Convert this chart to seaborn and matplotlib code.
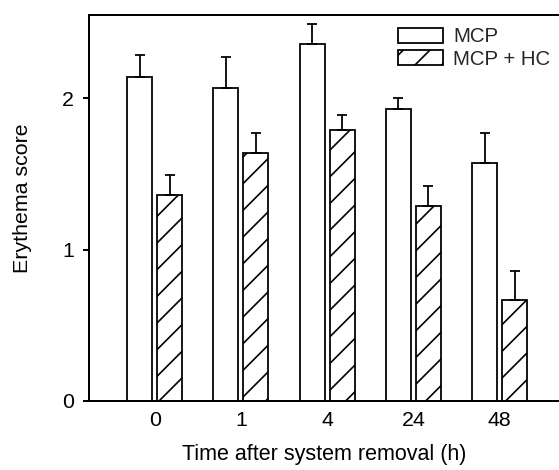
import matplotlib
matplotlib.use("Agg")
import numpy as np
import pandas as pd
import seaborn as sns
import matplotlib.pyplot as plt
from matplotlib.patches import Patch

# ---- data ----
times = ["0", "1", "4", "24", "48"]
groups = ["MCP", "MCP + HC"]
mcp = [2.14, 2.07, 2.36, 1.93, 1.57]
mcp_err = [0.145, 0.20, 0.13, 0.07, 0.20]
hc = [1.36, 1.64, 1.79, 1.29, 0.67]
hc_err = [0.13, 0.13, 0.10, 0.13, 0.19]
yticks = [0, 1, 2]
xlabel = "Time after system removal (h)"
ylabel = "Erythema score"

df = pd.DataFrame({
    "time": times * 2,
    "score": mcp + hc,
    "group": [groups[0]] * len(times) + [groups[1]] * len(times),
})

sns.set_theme(style="ticks")
plt.rcParams["font.family"] = ["Liberation Sans", "DejaVu Sans"]
plt.rcParams["hatch.linewidth"] = 0.75

DPI = 160
W, H = 559, 470
fig = plt.figure(figsize=(W / DPI, H / DPI), dpi=DPI)
ax = fig.add_axes([89 / W, 1 - 401 / H, 1 - 89 / W, (401 - 15) / H])

sns.barplot(data=df, x="time", y="score", hue="group", order=times,
            hue_order=groups, palette=["white", "white"], width=0.696,
            gap=0.167, edgecolor="black", linewidth=0.8, errorbar=None,
            legend=False, ax=ax)

for bar in ax.containers[1]:
    bar.set_hatch("//")

for cont, err in zip(ax.containers, [mcp_err, hc_err]):
    xs = [b.get_x() + b.get_width() / 2 for b in cont]
    ys = [b.get_height() for b in cont]
    ax.errorbar(xs, ys, yerr=[np.zeros(len(err)), err], fmt="none",
                ecolor="black", elinewidth=0.8, capsize=2.2, capthick=0.8,
                zorder=1)

ax.set_xlim(-0.763, 4.69)
ax.set_ylim(0, 2.55)
ax.set_yticks(yticks)
ax.set_yticklabels([str(t) for t in yticks])

for s in ["left", "top", "bottom"]:
    ax.spines[s].set_linewidth(0.9)
    ax.spines[s].set_color("black")
ax.spines["right"].set_visible(False)

ax.tick_params(axis="x", length=0, pad=4.5, labelsize=9.6, colors="black")
ax.tick_params(axis="y", direction="out", length=2.7, width=0.9, pad=4,
               labelsize=9.6, colors="black")

ax.set_xlabel(xlabel, fontsize=9.7, color="black")
ax.set_ylabel(ylabel, fontsize=9.6, color="black")
ax.xaxis.set_label_coords(0.5, -0.112)
ax.yaxis.set_label_coords(-0.121, 0.525)

handles = [Patch(facecolor="white", edgecolor="black", linewidth=0.8),
           Patch(facecolor="white", edgecolor="black", linewidth=0.8, hatch="//")]
ax.legend(handles, groups, loc="upper left",
          bbox_to_anchor=(398 / W, 1 - 27.5 / H), bbox_transform=fig.transFigure,
          frameon=False, fontsize=9.2, handlelength=2.2, handleheight=0.8,
          handletextpad=0.5, labelspacing=0.15, borderpad=0, borderaxespad=0)

fig.savefig("out.png", dpi=DPI, facecolor="white")
